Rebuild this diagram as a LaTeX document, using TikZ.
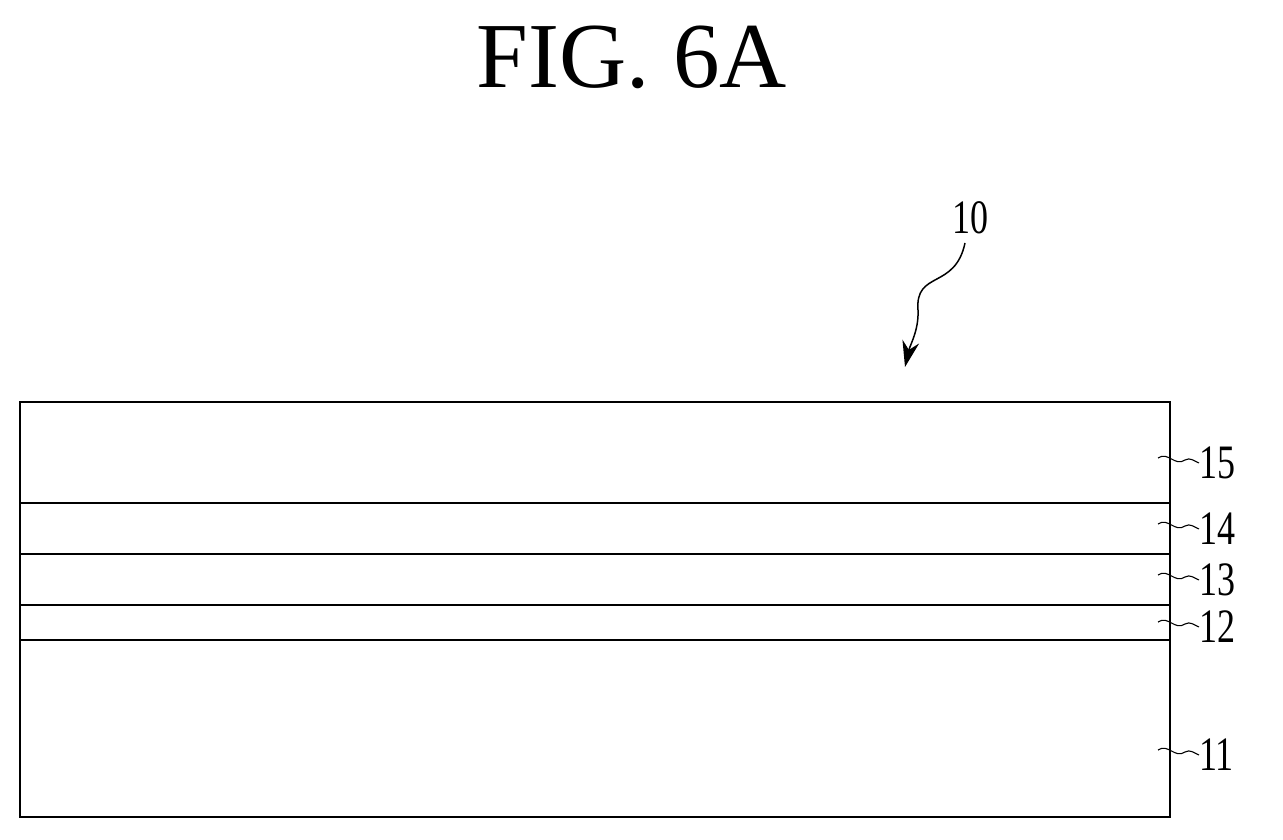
\documentclass[tikz,border=0pt]{standalone}
\usepackage{fontspec}
\setmainfont{Liberation Serif}
\usetikzlibrary{arrows.meta}
\begin{document}
\begin{tikzpicture}[x=1pt,y=-1pt,
  lay/.style={line width=1.6pt},
  lbl/.style={font=\fontsize{48}{48}\selectfont, inner sep=0pt, xscale=0.75},
  lead/.style={line width=1.1pt}]
\useasboundingbox (0,0) rectangle (1283,840);
\node[font=\fontsize{93}{93}\selectfont, inner sep=0pt] (t) at (632,57) {FIG. 6A};
\draw[lay] (20,402) rectangle (1170,817);
\foreach \y in {503,554,605,640} \draw[lay] (20,\y) -- (1170,\y);
\foreach \n/\y in {15/463,14/529,13/580,12/627,11/755}{
  \node[lbl,anchor=west] (l\n) at (1199,\y) {\n};
  \draw[lead] (1158,\y-5) .. controls (1168,\y-12) and (1175,\y+4) .. (1185,\y-3) .. controls (1190,\y-6) and (1194,\y-2) .. (l\n.west);
}
\node[lbl] (l10) at (970,218) {10};
\coordinate (tip) at (905,367);
\draw[line width=1.5pt,-{Stealth[length=26pt,width=17pt]}] (965,243) .. controls (955,290) and (915,270) .. (918,310) .. controls (919,330) and (910,345) .. (tip);
\end{tikzpicture}
\end{document}
